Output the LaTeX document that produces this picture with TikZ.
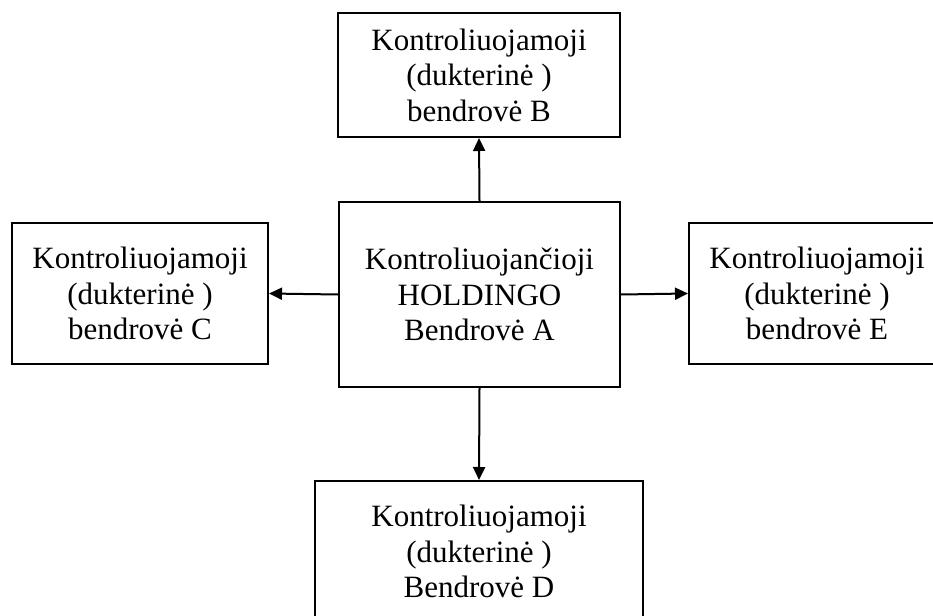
\documentclass[tikz,border=0pt]{standalone}
\usepackage{fontspec}
\setmainfont{Liberation Serif}
\usetikzlibrary{arrows.meta}
\begin{document}
\begin{tikzpicture}[x=1pt,y=-1pt,
  box/.style={draw=black,line width=2pt,rectangle,inner sep=0pt,align=center,
    font=\fontsize{31}{35.5}\selectfont},
  conn/.style={line width=2pt,-{Triangle[length=13pt,width=12pt]}}]
\clip (0,0) rectangle (933,615);
\fill[white] (0,0) rectangle (933,615);
\node[box,minimum width=281pt,minimum height=185pt] (A) at (479.5,294.5)
  {Kontroliuojančioji\\HOLDINGO\\Bendrovė A};
\node[box,minimum width=282pt,minimum height=124pt] (B) at (479,75)
  {Kontroliuojamoji\\(dukterinė )\\bendrovė B};
\node[box,minimum width=256pt,minimum height=141pt] (C) at (140,293.5)
  {Kontroliuojamoji\\(dukterinė )\\bendrovė C};
\node[box,minimum width=256pt,minimum height=141pt] (E) at (817,293.5)
  {Kontroliuojamoji\\(dukterinė )\\bendrovė E};
\node[box,minimum width=328pt,minimum height=141pt] (D) at (479,551.5)
  {Kontroliuojamoji\\(dukterinė )\\Bendrovė D};
\draw[conn] (A.north) -- (B.south);
\draw[conn] (A.west) -- (C.east);
\draw[conn] (A.east) -- (E.west);
\draw[conn] (A.south) -- (D.north);
\end{tikzpicture}
\end{document}
